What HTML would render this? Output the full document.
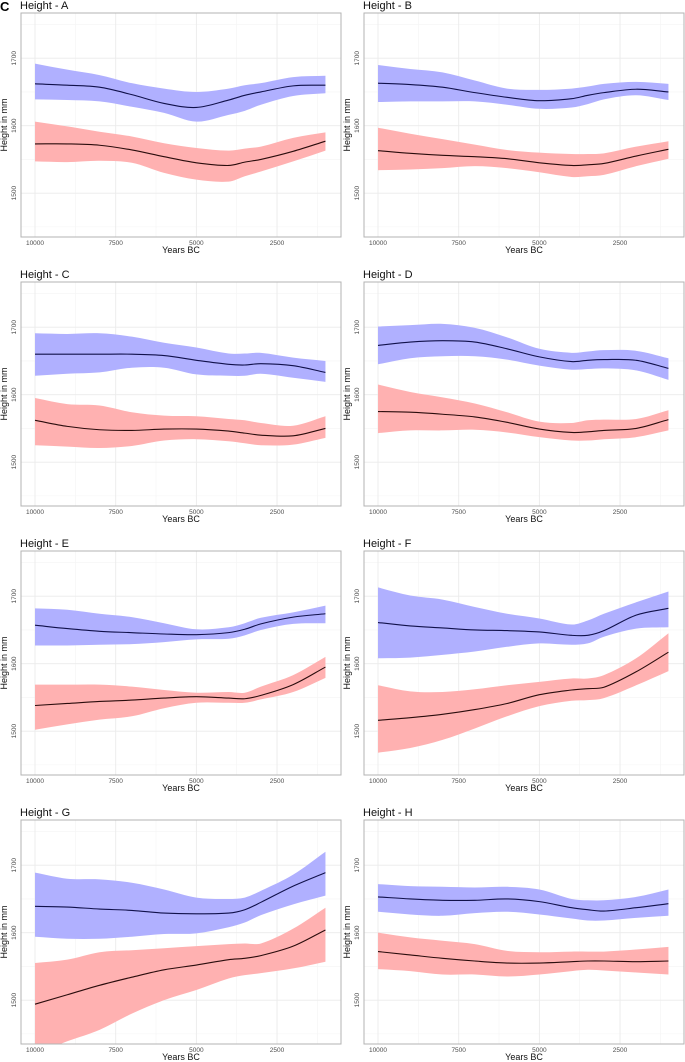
<!DOCTYPE html>
<html><head><meta charset="utf-8">
<style>
html,body{margin:0;padding:0;background:#fff;}
svg{display:block;font-family:"Liberation Sans",Arial,sans-serif;}
</style></head>
<body>
<svg id="fig" width="685" height="1062" viewBox="0 0 685 1062" xmlns="http://www.w3.org/2000/svg">
<text x="0" y="11" font-size="13" font-weight="bold" fill="#000">C</text>
</svg>
<script>
const years = [10000,9000,8000,7000,6000,5000,4000,3500,3000,2000,1000];
const xTicks = [10000,7500,5000,2500];
const yTicks = [1500,1600,1700];
const panelNames = ["A","B","C","D","E","F","G","H"];
const blueMean = {
A:[1662,1660,1657,1646,1633,1627,1638,1645,1650,1659,1660],
B:[1663,1661,1657,1649,1642,1637,1640,1645,1649,1654,1650],
C:[1660,1660,1660,1660,1658,1651,1645,1644,1646,1643,1633],
D:[1673,1678,1680,1678,1668,1656,1649,1651,1652,1651,1639],
E:[1657,1652,1648,1646,1644,1643,1646,1651,1659,1669,1674],
F:[1661,1656,1653,1650,1649,1647,1642,1642,1649,1672,1682],
G:[1639,1638,1635,1633,1629,1628,1629,1634,1645,1669,1689],
H:[1653,1650,1648,1648,1650,1646,1637,1634,1632,1637,1643]};
const blueUpper = {
A:[1692,1683,1675,1663,1655,1650,1655,1660,1663,1672,1674],
B:[1690,1684,1679,1667,1655,1653,1655,1658,1662,1665,1662],
C:[1691,1690,1691,1686,1677,1670,1661,1661,1662,1655,1650],
D:[1701,1703,1705,1699,1685,1668,1662,1664,1666,1665,1654],
E:[1682,1680,1674,1669,1660,1651,1654,1660,1668,1676,1686],
F:[1713,1701,1695,1684,1674,1667,1658,1664,1674,1691,1707],
G:[1689,1680,1679,1674,1664,1652,1650,1652,1662,1686,1720],
H:[1672,1669,1668,1667,1668,1664,1650,1648,1648,1653,1664]};
const blueLower = {
A:[1639,1638,1636,1628,1619,1606,1616,1622,1631,1644,1648],
B:[1635,1636,1636,1636,1631,1625,1627,1632,1639,1645,1638],
C:[1628,1631,1633,1640,1640,1630,1628,1628,1631,1625,1619],
D:[1645,1654,1657,1657,1652,1643,1637,1638,1639,1636,1622],
E:[1627,1627,1628,1629,1632,1636,1637,1642,1650,1659,1660],
F:[1608,1609,1613,1618,1625,1630,1628,1630,1640,1652,1654],
G:[1594,1591,1591,1594,1598,1599,1608,1615,1626,1642,1655],
H:[1631,1627,1625,1629,1631,1627,1621,1618,1618,1622,1625]};
const redMean = {
A:[1573,1573,1571,1564,1554,1545,1541,1546,1550,1562,1577],
B:[1563,1559,1556,1554,1551,1545,1541,1542,1544,1555,1565],
C:[1562,1553,1548,1547,1549,1549,1546,1543,1540,1539,1550],
D:[1575,1574,1571,1567,1559,1549,1544,1545,1547,1550,1563],
E:[1538,1541,1544,1546,1549,1551,1549,1548,1553,1569,1595],
F:[1516,1520,1525,1532,1541,1554,1561,1563,1565,1588,1617],
G:[1494,1508,1522,1534,1545,1552,1560,1562,1566,1580,1604],
H:[1572,1567,1562,1558,1555,1555,1557,1558,1558,1557,1558]};
const redUpper = {
A:[1606,1599,1591,1584,1574,1567,1563,1566,1569,1582,1590],
B:[1597,1588,1580,1572,1564,1560,1558,1558,1559,1569,1577],
C:[1595,1586,1584,1574,1569,1568,1564,1562,1558,1554,1568],
D:[1615,1604,1596,1587,1574,1560,1558,1562,1563,1564,1577],
E:[1569,1569,1569,1566,1561,1557,1558,1557,1566,1583,1610],
F:[1568,1559,1558,1562,1568,1573,1578,1578,1583,1608,1645],
G:[1555,1560,1571,1574,1577,1580,1583,1584,1584,1606,1637],
H:[1600,1593,1588,1583,1573,1571,1572,1572,1572,1575,1579]};
const redLower = {
A:[1547,1546,1548,1545,1530,1520,1517,1525,1532,1547,1563],
B:[1534,1535,1537,1540,1537,1531,1524,1525,1527,1540,1551],
C:[1525,1523,1521,1524,1532,1534,1531,1528,1525,1526,1536],
D:[1543,1547,1547,1548,1544,1537,1532,1532,1534,1537,1547],
E:[1502,1510,1517,1522,1534,1542,1542,1542,1547,1558,1579],
F:[1468,1475,1487,1504,1522,1537,1545,1546,1549,1568,1589],
G:[1420,1439,1456,1480,1500,1515,1532,1537,1540,1547,1557],
H:[1546,1543,1538,1538,1535,1538,1543,1545,1544,1541,1538]};

const NS="http://www.w3.org/2000/svg";
const svg=document.getElementById('fig');
const PW=320, PH=224;
const XD=[10434,518], YD=[1767,1435];
function mk(tag,attrs,parent){const e=document.createElementNS(NS,tag);for(const k in attrs)e.setAttribute(k,attrs[k]);(parent||svg).appendChild(e);return e;}
// non-uniform cubic Hermite: slopes computed in x-space
function smooth(pts,cont){
  const n=pts.length;
  const m=pts.map((p,i)=>{
    const a=pts[Math.max(0,i-1)],b=pts[Math.min(n-1,i+1)];
    return (b[1]-a[1])/(b[0]-a[0]);
  });
  let d=(cont?"L":"M")+pts[0][0].toFixed(2)+","+pts[0][1].toFixed(2);
  for(let i=0;i<n-1;i++){
    const p1=pts[i],p2=pts[i+1],dx=(p2[0]-p1[0])/3;
    const c1=[p1[0]+dx,p1[1]+m[i]*dx];
    const c2=[p2[0]-dx,p2[1]-m[i+1]*dx];
    d+="C"+c1[0].toFixed(2)+","+c1[1].toFixed(2)+" "+c2[0].toFixed(2)+","+c2[1].toFixed(2)+" "+p2[0].toFixed(2)+","+p2[1].toFixed(2);
  }
  return d;
}

panelNames.forEach((nm,i)=>{
  const col=i%2,row=Math.floor(i/2);
  const px=col===0?21:364, py=13+row*269;
  const xs=v=>px+(XD[0]-v)/(XD[0]-XD[1])*PW;
  const ys=v=>py+(YD[0]-v)/(YD[0]-YD[1])*PH;
  const g=mk('g',{});
  
  
  const t=mk('text',{x:px-1,y:py-4,'font-size':11,fill:'#111'},g);
  t.textContent='Height - '+nm;
  
  
  const clipId='clip'+nm;
  const cp=mk('clipPath',{id:clipId},g);
  mk('rect',{x:px,y:py,width:PW,height:PH},cp);
  [8750,6250,3750,1250].forEach(v=>mk('line',{x1:xs(v),x2:xs(v),y1:py,y2:py+PH,stroke:'#f4f4f4','stroke-width':0.6},g));
  [1450,1550,1650,1750].forEach(v=>mk('line',{x1:px,x2:px+PW,y1:ys(v),y2:ys(v),stroke:'#f4f4f4','stroke-width':0.6},g));
  xTicks.forEach(v=>{
    const l=mk('line',{x1:xs(v),x2:xs(v),y1:py,y2:py+PH,stroke:'#ebebeb','stroke-width':0.9},g);
    
    
    const tx=mk('text',{x:xs(v),y:py+PH+8,'font-size':6.5,fill:'#4d4d4d','text-anchor':'middle'},g);
    tx.textContent=v;
    
    
  });
  yTicks.forEach(v=>{
    const l=mk('line',{x1:px,x2:px+PW,y1:ys(v),y2:ys(v),stroke:'#ebebeb','stroke-width':0.9},g);
    
    
    const tx=mk('text',{x:0,y:0,'font-size':6.5,fill:'#4d4d4d','text-anchor':'middle',transform:`translate(${px-5},${ys(v)}) rotate(-90)`},g);
    tx.textContent=v;
    
    
  });
  const cg=mk('g',{'clip-path':`url(#${clipId})`},g);
  [[blueUpper,blueLower,blueMean,'#b0b0ff','blue'],[redUpper,redLower,redMean,'#ffb1b1','red']].forEach(([U,L,M,c,n])=>{
    const up=years.map((y,k)=>[xs(y),ys(U[nm][k])]);
    const lo=years.map((y,k)=>[xs(y),ys(L[nm][k])]);
    const loRev=smooth(lo.slice().reverse().map(p=>[-p[0],p[1]]),true).replace(/(-?\d+\.?\d*),(-?\d+\.?\d*)/g,(s,a,b)=>(-parseFloat(a)).toFixed(2)+","+b);
    const band=mk('path',{d:smooth(up,false)+loRev+"Z",fill:c,stroke:'none'},cg);
    
    
    const mean=years.map((y,k)=>[xs(y),ys(M[nm][k])]);
    const ln=mk('path',{d:smooth(mean,false),fill:'none',stroke:n==='blue'?'#10104a':'#2a0c0c','stroke-width':1.1},cg);
    
    
  });
  const b=mk('rect',{x:px,y:py,width:PW,height:PH,fill:'none',stroke:'#b3b3b3','stroke-width':1},g);
  
  
  const xt=mk('text',{x:px+PW/2,y:py+PH+16,'font-size':9,fill:'#111','text-anchor':'middle'},g);
  xt.textContent='Years BC';
  
  
  const yt=mk('text',{x:0,y:0,'font-size':9,fill:'#111','text-anchor':'middle',transform:`translate(${px-14},${py+PH/2}) rotate(-90)`},g);
  yt.textContent='Height in mm';
  
  
});
</script>
</body></html>
